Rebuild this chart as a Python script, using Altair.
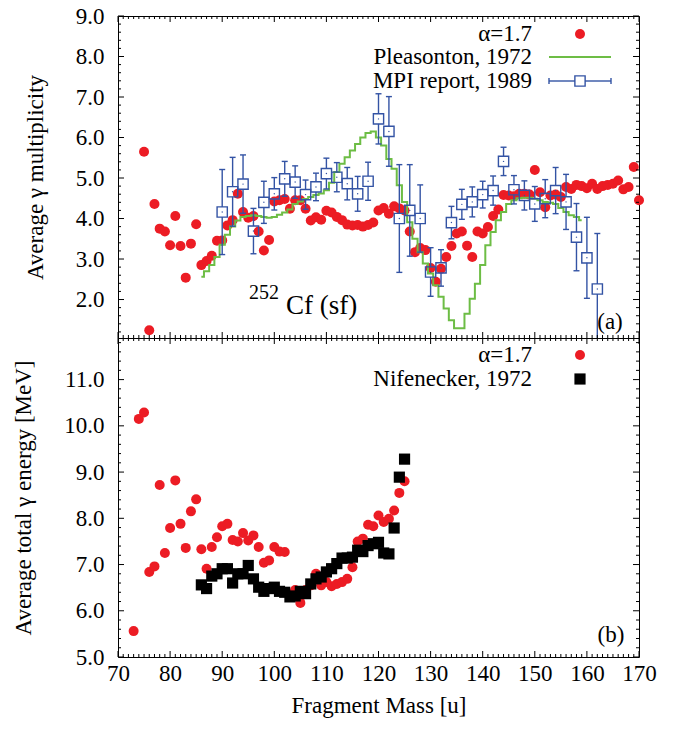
import altair as alt
import pandas as pd

SERIF = "'Liberation Serif', 'Times New Roman', Times, serif"
RED = "#ec1c24"
GREEN = "#6dbd45"
BLUE = "#3353a4"
BLACK = "#000000"

PANEL_W = 521
TOP_H = 322
BOT_H = 319
MAJOR = 6
MINOR = 3
BOX_HALF = 5

# ---- panel (a): average gamma multiplicity ----
calc_mass_top = list(range(75, 171))
calc_mult = [
    5.65, 1.24, 4.36, 3.75, 3.68, 3.34, 4.06, 3.32, 2.54, 3.38,
    3.86, 2.85, 2.95, 3.08, 3.45, 3.46, 3.83, 3.96, 4.61, 4.16,
    4.02, 4.06, 3.68, 3.21, 3.47, 4.42, 4.45, 4.48, 4.24, 4.45,
    4.45, 4.24, 3.95, 4.03, 3.97, 4.19, 4.15, 4.04, 3.96, 3.85,
    3.83, 3.84, 3.80, 3.84, 3.90, 4.20, 4.26, 4.12, 4.30, 4.25,
    4.20, 3.68, 3.17, 3.27, 3.22, 2.78, 2.44, 2.76, 3.05, 3.32,
    3.63, 3.68, 3.33, 3.05, 3.68, 3.63, 3.79, 4.06, 4.22, 4.58,
    4.57, 4.55, 4.61, 4.61, 4.59, 5.20, 4.65, 4.28, 4.57, 4.59,
    4.53, 4.78, 4.73, 4.83, 4.80, 4.75, 4.86, 4.73, 4.80, 4.83,
    4.86, 4.94, 4.72, 4.78, 5.27, 4.45,
]

pleas_mass = list(range(86, 160))
pleas_mult = [
    2.56, 2.70, 2.85, 3.05, 3.35, 3.60, 3.80, 3.95, 4.04, 4.06,
    4.08, 4.06, 4.04, 4.02, 4.04, 4.09, 4.15, 4.22, 4.36, 4.42,
    4.48, 4.53, 4.58, 4.62, 4.70, 4.88, 5.15, 5.35, 5.51, 5.68,
    5.84, 6.00, 6.11, 6.15, 6.00, 5.80, 5.47, 5.23, 4.82, 4.41,
    3.91, 3.50, 3.17, 2.89, 2.64, 2.35, 2.07, 1.78, 1.49, 1.29,
    1.29, 1.65, 2.02, 2.39, 2.85, 3.34, 3.67, 3.96, 4.16, 4.36,
    4.45, 4.50, 4.51, 4.51, 4.49, 4.45, 4.41, 4.39, 4.36, 4.26,
    4.16, 4.08, 4.04, 3.96,
]

mpi_mass = list(range(90, 163, 2))
mpi_mult = [
    4.16, 4.66, 4.85, 3.69, 4.40, 4.61, 4.98, 4.90, 4.59, 4.78,
    5.11, 5.02, 4.86, 4.61, 4.92, 6.46, 6.15, 4.00, 4.20, 4.00,
    2.68, 2.78, 3.90, 4.35, 4.41, 4.59, 4.69, 5.41, 4.71, 4.57,
    4.36, 4.49, 4.69, 4.41, 3.54, 3.03, 2.26,
]
mpi_err = [
    1.05, 0.85, 0.72, 0.56, 0.52, 0.40, 0.43, 0.40, 0.36, 0.34,
    0.38, 0.36, 0.40, 0.43, 0.47, 0.62, 0.86, 1.33, 1.13, 0.83,
    0.60, 0.45, 0.40, 0.37, 0.37, 0.33, 0.36, 0.35, 0.35, 0.36,
    0.43, 0.47, 0.57, 0.68, 0.83, 1.00, 1.37,
]

# ---- panel (b): average total gamma energy ----
calc_mass_bot = list(range(73, 126))
calc_energy = [
    5.56, 10.15, 10.29, 6.84, 6.96, 8.72, 7.25, 7.79, 8.82, 7.88,
    7.36, 8.15, 8.41, 7.33, 6.91, 7.38, 7.59, 7.83, 7.88, 7.53,
    7.50, 7.68, 7.52, 7.63, 7.38, 7.04, 7.09, 7.38, 7.28, 7.27,
    6.35, 6.45, 6.17, 6.45, 6.55, 6.80, 6.55, 6.62, 6.53, 6.58,
    6.62, 6.69, 6.94, 7.50, 7.56, 7.86, 7.83, 8.06, 7.92, 7.99,
    8.17, 8.55, 8.80,
]

nife_mass = list(range(86, 126))
nife_energy = [
    6.56, 6.48, 6.75, 6.80, 6.91, 6.91, 6.60, 6.80, 6.80, 6.98,
    6.69, 6.51, 6.42, 6.48, 6.51, 6.42, 6.40, 6.30, 6.32, 6.42,
    6.37, 6.58, 6.69, 6.73, 6.84, 6.91, 7.02, 7.14, 7.14, 7.16,
    7.31, 7.28, 7.41, 7.45, 7.48, 7.25, 7.23, 7.79, 8.89, 9.28,
]

# ---- tick values ----
x_major = list(range(70, 171, 10))
x_minor = [m for m in range(70, 171) if m % 10]
top_y_major = [2, 3, 4, 5, 6, 7, 8, 9]
top_y_minor = [v / 10 for v in range(12, 90, 2) if v % 10]
bot_y_major = [5, 6, 7, 8, 9, 10, 11]
bot_y_minor = [v / 10 for v in range(52, 119, 2) if v % 10]

calc_top = pd.DataFrame({"mass": calc_mass_top, "value": calc_mult})
pleas = pd.DataFrame({"mass": pleas_mass, "value": pleas_mult})
mpi = pd.DataFrame({
    "mass": mpi_mass,
    "value": mpi_mult,
    "lo": [v - e for v, e in zip(mpi_mult, mpi_err)],
    "hi": [v + e for v, e in zip(mpi_mult, mpi_err)],
})
calc_bot = pd.DataFrame({"mass": calc_mass_bot, "value": calc_energy})
nife = pd.DataFrame({"mass": nife_mass, "value": nife_energy})

x_scale = alt.Scale(domain=[70, 170], nice=False, zero=False)
top_scale = alt.Scale(domain=[1.05, 9.0], nice=False, zero=False)
bot_scale = alt.Scale(domain=[5.0, 11.9], nice=False, zero=False)

top_y_axis = alt.Axis(values=top_y_major, format=".1f", ticks=False, domain=False,
                      grid=False, labelPadding=14, title="Average γ multiplicity",
                      titlePadding=28)
bot_y_axis = alt.Axis(values=bot_y_major, format=".1f", ticks=False, domain=False,
                      grid=False, labelPadding=14,
                      title="Average total  γ energy [MeV]", titlePadding=28)
bot_x_axis = alt.Axis(values=x_major, format="d", ticks=False, domain=False,
                      grid=False, labelPadding=5, labelFlush=False,
                      labelOverlap=False, title="Fragment Mass [u]", titlePadding=9)


def frame_ticks(x_axis, y_scale, y_axis, y_major, y_minor, height):
    """Inward tick marks on all four sides of a panel."""
    layers = []
    for vals, size in ((y_major, MAJOR), (y_minor, MINOR)):
        df = pd.DataFrame({"v": vals})
        y = alt.Y("v:Q", scale=y_scale, axis=y_axis)
        layers.append(alt.Chart(df).mark_rule(color=BLACK, strokeWidth=1).encode(
            y=y, x=alt.value(0), x2=alt.value(size)))
        layers.append(alt.Chart(df).mark_rule(color=BLACK, strokeWidth=1).encode(
            y=y, x=alt.value(PANEL_W - size), x2=alt.value(PANEL_W)))
    for vals, size in ((x_major, MAJOR), (x_minor, MINOR)):
        df = pd.DataFrame({"v": vals})
        x = alt.X("v:Q", scale=x_scale, axis=x_axis)
        layers.append(alt.Chart(df).mark_rule(color=BLACK, strokeWidth=1).encode(
            x=x, y=alt.value(height - size), y2=alt.value(height)))
        layers.append(alt.Chart(df).mark_rule(color=BLACK, strokeWidth=1).encode(
            x=x, y=alt.value(0), y2=alt.value(size)))
    return layers


def label(text, x, y, size=23, align="right", baseline="middle"):
    return alt.Chart(pd.DataFrame({"t": [text]})).mark_text(
        font=SERIF, fontSize=size, align=align, baseline=baseline, color=BLACK
    ).encode(text="t:N", x=alt.value(x), y=alt.value(y))


one = pd.DataFrame({"k": [0]})

# ---------------- panel (a) ----------------
tx = alt.X("mass:Q", scale=x_scale, axis=None)
ty = alt.Y("value:Q", scale=top_scale, axis=top_y_axis)

red_top = alt.Chart(calc_top).mark_circle(color=RED, size=100, opacity=1).encode(x=tx, y=ty)
green_top = alt.Chart(pleas).mark_line(color=GREEN, strokeWidth=2, interpolate="step").encode(x=tx, y=ty)
err_low = alt.Chart(mpi).mark_rule(color=BLUE, strokeWidth=1.4, clip=True, y2Offset=BOX_HALF).encode(
    x=tx, y=alt.Y("lo:Q", scale=top_scale, axis=top_y_axis), y2="value:Q")
err_high = alt.Chart(mpi).mark_rule(color=BLUE, strokeWidth=1.4, clip=True, yOffset=-BOX_HALF).encode(
    x=tx, y=ty, y2="hi:Q")
cap_low = alt.Chart(mpi).mark_rule(color=BLUE, strokeWidth=1.4, clip=True, xOffset=-3, x2Offset=3).encode(
    x=tx, x2="mass:Q", y=alt.Y("lo:Q", scale=top_scale, axis=top_y_axis))
cap_high = alt.Chart(mpi).mark_rule(color=BLUE, strokeWidth=1.4, clip=True, xOffset=-3, x2Offset=3).encode(
    x=tx, x2="mass:Q", y=alt.Y("hi:Q", scale=top_scale, axis=top_y_axis))
boxes = alt.Chart(mpi).mark_point(shape="square", filled=False, size=105, color=BLUE,
                                  strokeWidth=1.4, opacity=1).encode(x=tx, y=ty)
centres = alt.Chart(mpi).mark_circle(color=BLUE, size=2, opacity=1).encode(x=tx, y=ty)

leg_top = [
    label("α=1.7", 414, 18),
    alt.Chart(one).mark_circle(color=RED, size=100, opacity=1).encode(x=alt.value(462), y=alt.value(18)),
    label("Pleasonton, 1972", 414, 41),
    alt.Chart(one).mark_rule(color=GREEN, strokeWidth=2).encode(
        x=alt.value(431), x2=alt.value(493), y=alt.value(41)),
    label("MPI report, 1989", 414, 65),
    alt.Chart(one).mark_rule(color=BLUE, strokeWidth=1.4).encode(
        x=alt.value(431), x2=alt.value(457), y=alt.value(65)),
    alt.Chart(one).mark_rule(color=BLUE, strokeWidth=1.4).encode(
        x=alt.value(467), x2=alt.value(493), y=alt.value(65)),
    alt.Chart(one).mark_rule(color=BLUE, strokeWidth=1.4).encode(
        x=alt.value(431), y=alt.value(62), y2=alt.value(68)),
    alt.Chart(one).mark_rule(color=BLUE, strokeWidth=1.4).encode(
        x=alt.value(493), y=alt.value(62), y2=alt.value(68)),
    alt.Chart(one).mark_point(shape="square", filled=False, size=105, color=BLUE,
                              strokeWidth=1.4, opacity=1).encode(x=alt.value(462), y=alt.value(65)),
]

notes_top = [
    label("252", 131, 283, size=20, align="left", baseline="alphabetic"),
    label("Cf (sf)", 168, 298, size=27, align="left", baseline="alphabetic"),
    label("(a)", 492, 313, size=23, align="center", baseline="alphabetic"),
]

top = alt.layer(
    red_top, green_top, err_low, err_high, cap_low, cap_high, boxes, centres,
    *leg_top, *notes_top,
    *frame_ticks(None, top_scale, top_y_axis, top_y_major, top_y_minor, TOP_H),
).properties(width=PANEL_W, height=TOP_H)

# ---------------- panel (b) ----------------
bx = alt.X("mass:Q", scale=x_scale, axis=bot_x_axis)
by = alt.Y("value:Q", scale=bot_scale, axis=bot_y_axis)

red_bot = alt.Chart(calc_bot).mark_circle(color=RED, size=100, opacity=1).encode(x=bx, y=by)
black_bot = alt.Chart(nife).mark_square(color=BLACK, size=125, opacity=1).encode(x=bx, y=by)

leg_bot = [
    label("α=1.7", 414, 17),
    alt.Chart(one).mark_circle(color=RED, size=100, opacity=1).encode(x=alt.value(462), y=alt.value(17)),
    label("Nifenecker, 1972", 414, 41),
    alt.Chart(one).mark_square(color=BLACK, size=125, opacity=1).encode(x=alt.value(462), y=alt.value(41)),
    label("(b)", 493, 304, size=23, align="center", baseline="alphabetic"),
]

bottom = alt.layer(
    red_bot, black_bot, *leg_bot,
    *frame_ticks(bot_x_axis, bot_scale, bot_y_axis, bot_y_major, bot_y_minor, BOT_H),
).properties(width=PANEL_W, height=BOT_H)

chart = (
    alt.vconcat(top, bottom, spacing=0, bounds="flush")
    .properties(padding={"left": 12, "top": 4, "right": 10, "bottom": 8},
                background="white")
    .configure_view(stroke=BLACK, strokeWidth=1)
    .configure_axis(labelFont=SERIF, titleFont=SERIF, labelFontSize=23, titleFontSize=23,
                    labelColor=BLACK, titleColor=BLACK, titleFontWeight="normal")
)

chart.save("out.html", embed_options={"renderer": "svg", "actions": False})
